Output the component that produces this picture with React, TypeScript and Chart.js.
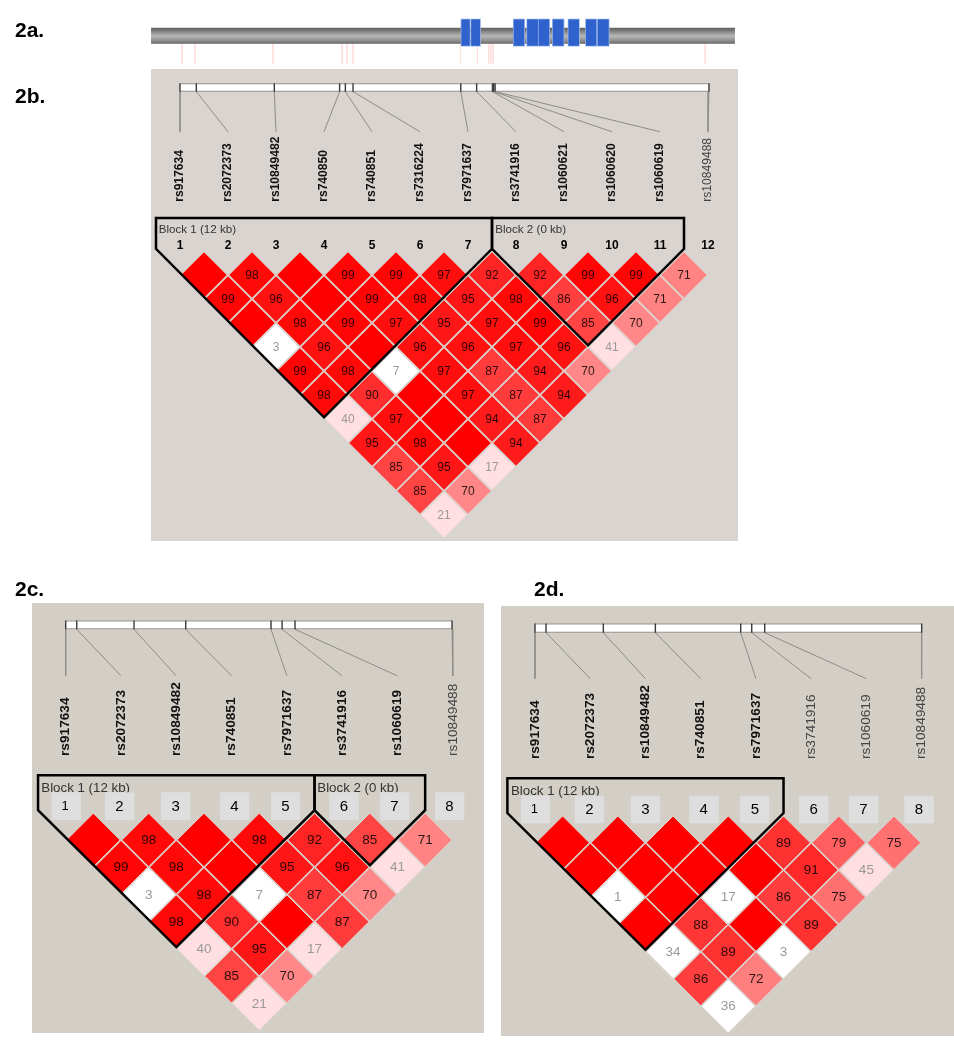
import React, { useEffect, useRef } from "react";
import { Chart, registerables } from "chart.js";

Chart.register(...registerables);

const WIDTH = 954;
const HEIGHT = 1050;

// ---------- Data: gene track (2a), positions in kb ----------
const geneSpanKb = [-1.29, 23.04];
const exonStartsKb = [11.64, 12.05, 13.82, 14.38, 14.86, 15.45, 16.1, 16.83, 17.32];
const exonEndsKb = [11.99, 12.42, 14.26, 14.83, 15.3, 15.9, 16.54, 17.26, 17.78];
const trackSnpKb = [0, 0.54, 3.79, 6.67, 6.88, 7.13, 11.6, 12.31, 12.78, 12.88, 12.97, 21.8];

// ---------- Data: 2b ----------
const snpsB = ["rs917634", "rs2072373", "rs10849482", "rs740850", "rs740851", "rs7316224", "rs7971637", "rs3741916", "rs1060621", "rs1060620", "rs1060619", "rs10849488"];
const stripKbB = [0, 0.68, 3.93, 6.65, 6.89, 7.21, 11.7, 12.36, 13.02, 13.07, 13.13, 22.04];
const ldB = [
  [null, 98, null, 99, 99, 97, 92, 92, 99, 99, 71],
  [99, 96, null, 99, 98, 95, 98, 86, 96, 71],
  [null, 98, 99, 97, 95, 97, 99, 85, 70],
  [3, 96, null, 96, 96, 97, 96, 41],
  [99, 98, 7, 97, 87, 94, 70],
  [98, 90, null, 97, 87, 94],
  [40, 97, null, 94, 87],
  [95, 98, null, 94],
  [85, 95, 17],
  [85, 70],
  [21],
];
const blocksB = [[1, 7], [8, 11]];
const blockNamesB = ["Block 1 (12 kb)", "Block 2 (0 kb)"];

// ---------- Data: 2c ----------
const snpsC = ["rs917634", "rs2072373", "rs10849482", "rs740851", "rs7971637", "rs3741916", "rs1060619", "rs10849488"];
const stripKbC = [0, 0.63, 3.9, 6.85, 11.72, 12.35, 13.09, 22.05];
const ldC = [
  [null, 98, null, 98, 92, 85, 71],
  [99, 98, null, 95, 96, 41],
  [3, 98, 7, 87, 70],
  [98, 90, null, 87],
  [40, 95, 17],
  [85, 70],
  [21],
];
const blocksC = [[1, 5], [6, 7]];
const blockNamesC = ["Block 1 (12 kb)", "Block 2 (0 kb)"];

// ---------- Data: 2d ----------
const snpsD = snpsC;
const stripKbD = [0, 0.63, 3.9, 6.87, 11.74, 12.37, 13.11, 22.07];
const ldD = [
  [null, null, null, null, 89, 79, 75],
  [null, null, null, null, 91, 45],
  [1, null, 17, 86, 75],
  [null, 88, null, 89],
  [34, 89, 3],
  [86, 72],
  [36],
];
const blocksD = [[1, 5]];
const blockNamesD = ["Block 1 (12 kb)"];

// ---------- Layout (pixels), kept apart from the data ----------
const panelLabels = [
  { text: "2a.", x: 15, y: 37 },
  { text: "2b.", x: 15, y: 103 },
  { text: "2c.", x: 15, y: 596 },
  { text: "2d.", x: 534, y: 596 },
];

const PANELS = [
  {
    id: "B", snps: snpsB, strip: stripKbB, ld: ldB, blocks: blocksB, blockNames: blockNamesB,
    boldCount: 11, whiteBelow: 10, bg: "#d9d4cf", rect: [151, 69, 738, 541],
    x0: 180, step: 48, y0: 251, rowStep: 24, pxPerKb: 24, radius: 23.3,
    stripTop: -6.99, stripBottom: -6.64, leaderEnd: -4.97, labelBase: -2.05,
    labelFont: 12.1, cellFont: 12, blockFont: 11.6, blockTextY: 230, blockTextX: [158.7, 495.3],
    numbers: null, numberY: 246, boxes: null,
  },
  {
    id: "C", snps: snpsC, strip: stripKbC, ld: ldC, blocks: blocksC, blockNames: blockNamesC,
    boldCount: 7, whiteBelow: 10, bg: "#d3cfc7", rect: [32, 603, 484, 1033],
    x0: 65.7, step: 55.3, y0: 812.7, rowStep: 27.25, pxPerKb: 17.52, radius: 26.8,
    stripTop: -7.05, stripBottom: -6.73, leaderEnd: -5.02, labelBase: -2.08,
    labelFont: 13.7, cellFont: 13.5, blockFont: 13.3, blockTextY: 788, blockTextX: [41.3, 317.3],
    numbers: [65, 119.3, 175.7, 234.3, 285.3, 344, 394.3, 449.3], numberY: 806.5,
    boxes: [[51.7, 81], [105, 134.3], [161, 190.3], [220, 249.3], [271, 300], [329.3, 358.7], [380, 409.3], [435, 464.3]],
    boxY: [792.3, 820],
  },
  {
    id: "D", snps: snpsD, strip: stripKbD, ld: ldD, blocks: blocksD, blockNames: blockNamesD,
    boldCount: 5, whiteBelow: 40, bg: "#d3cfc7", rect: [501, 606, 954, 1036],
    x0: 535, step: 55.23, y0: 815.5, rowStep: 27.25, pxPerKb: 17.52, radius: 26.8,
    stripTop: -7.05, stripBottom: -6.71, leaderEnd: -5.02, labelBase: -2.07,
    labelFont: 13.7, cellFont: 13.5, blockFont: 13.3, blockTextY: 791, blockTextX: [511],
    numbers: [534.3, 589.3, 645.3, 703.7, 755, 813.7, 863.3, 919], numberY: 809.5,
    boxes: [[521, 550], [574.7, 604], [630.7, 660], [689.3, 718.7], [740, 769.3], [799, 828.3], [849, 878.3], [904.3, 933.7]],
    boxY: [795.7, 823.3],
  },
];

const FONT = '"Liberation Sans", Arial, sans-serif';

function cellColor(v: number | null, whiteBelow: number): string {
  if (v === null) return "#ff0000";
  if (v < whiteBelow) return "#ffffff";
  if (v < 50) return "#ffdfe2";
  const g = Math.round((100 - v) * 4.5);
  return `rgb(255,${g},${g})`;
}

function linearScale(axis: string, origin: number, unit: number, size: number, base: number, reverse: boolean) {
  return {
    type: "linear",
    axis,
    display: false,
    bounds: "data",
    reverse,
    min: base - origin / unit,
    max: base + (size - origin) / unit,
  };
}

function line(points: { x: number; y: number }[], xAxisID: string, yAxisID: string, color: any, width: number, order: number, extra: any = {}) {
  return {
    data: points,
    xAxisID,
    yAxisID,
    showLine: true,
    borderColor: color,
    backgroundColor: "transparent",
    borderWidth: width,
    pointRadius: 0,
    tension: 0,
    clip: false,
    order,
    borderCapStyle: "butt",
    borderJoinStyle: "miter",
    ...extra,
  };
}

function buildDatasets(ctx: CanvasRenderingContext2D) {
  const sets: any[] = [];
  // Gene track
  const grad = ctx.createLinearGradient(0, 28, 0, 44);
  grad.addColorStop(0, "#606060");
  grad.addColorStop(0.18, "#7c7c7c");
  grad.addColorStop(0.5, "#b8b8b8");
  grad.addColorStop(0.82, "#8a8a8a");
  grad.addColorStop(1, "#5f5f5f");
  sets.push(line(geneSpanKb.map((x) => ({ x, y: 0 })), "xT", "yT", grad, 16, 60));
  trackSnpKb.forEach((k) =>
    sets.push(line([{ x: k, y: 7.7 }, { x: k, y: 27.7 }], "xT", "yT", "#fddfda", 1, 60)),
  );
  exonStartsKb.forEach((s, i) => {
    sets.push(line([{ x: s - 0.03, y: -3.2 }, { x: exonEndsKb[i] + 0.03, y: -3.2 }], "xT", "yT", "#9db8ea", 27.8, 51));
    sets.push(line([{ x: s, y: -3.2 }, { x: exonEndsKb[i], y: -3.2 }], "xT", "yT", "#2f62cc", 26.4, 50));
  });

  PANELS.forEach((p) => {
    const xId = "x" + p.id;
    const yId = "y" + p.id;
    const kbToMarker = (k: number) => 1 + (k * p.pxPerKb) / p.step;
    const mid = (p.stripTop + p.stripBottom) / 2;
    const stripEnds = [p.strip[0], p.strip[p.strip.length - 1]].map((k) => ({ x: kbToMarker(k), y: mid }));
    const stripH = (p.stripBottom - p.stripTop) * p.rowStep;
    sets.push(line(stripEnds, xId, yId, "#9a9590", stripH, 49));
    sets.push(line(stripEnds, xId, yId, "#ffffff", stripH - 2, 48));
    p.strip.forEach((k, i) => {
      const x = kbToMarker(k);
      sets.push(line([{ x, y: p.stripTop }, { x, y: p.stripBottom }], xId, yId, "#3a3a3a", 1.4, 47));
      sets.push(line([{ x, y: p.stripBottom }, { x: i + 1, y: p.leaderEnd }], xId, yId, "#8f8c88", 1, 47));
    });
    // LD cells
    const cells: any[] = [];
    const colors: string[] = [];
    p.ld.forEach((row, r) =>
      row.forEach((v, c) => {
        const i = c + 1;
        const d = r + 1;
        cells.push({ x: i + d / 2, y: d, v });
        colors.push(cellColor(v, p.whiteBelow));
      }),
    );
    sets.push({
      data: cells,
      xAxisID: xId,
      yAxisID: yId,
      showLine: false,
      pointStyle: "rectRot",
      pointRadius: p.radius,
      pointBackgroundColor: colors,
      pointBorderColor: "#dcd6d0",
      pointBorderWidth: 1,
      clip: false,
      order: 40,
      panel: p.id,
      isCells: true,
    });
    // Block outlines
    p.blocks.forEach(([a, b]) => {
      const left = a - 0.5;
      const right = b + 0.5;
      const top = -1.37;
      const low = -0.09;
      const pts = [
        { x: left, y: top }, { x: left, y: low },
        { x: (left + right) / 2, y: b - a + 1 - 0.07 },
        { x: right, y: low }, { x: right, y: top }, { x: left, y: top },
      ];
      sets.push(line(pts, xId, yId, "#000000", 2.5, 30, { borderCapStyle: "square" }));
    });
  });
  return sets;
}

const figurePlugin = {
  id: "figure",
  beforeDatasetsDraw(chart: any) {
    const { ctx } = chart;
    ctx.save();
    PANELS.forEach((p) => {
      const [l, t, r, b] = p.rect;
      ctx.fillStyle = p.bg;
      ctx.fillRect(l, t, r - l, b - t);
    });
    ctx.restore();
  },
  afterDatasetsDraw(chart: any) {
    const { ctx } = chart;
    ctx.save();
    ctx.textBaseline = "alphabetic";
    ctx.textAlign = "left";
    ctx.fillStyle = "#000";
    ctx.font = `bold 21px ${FONT}`;
    panelLabels.forEach((l) => ctx.fillText(l.text, l.x, l.y));

    PANELS.forEach((p) => {
      const xs = chart.scales["x" + p.id];
      const ys = chart.scales["y" + p.id];
      // SNP names
      p.snps.forEach((name, i) => {
        const bold = i < p.boldCount;
        ctx.save();
        ctx.translate(xs.getPixelForValue(i + 1), ys.getPixelForValue(p.labelBase));
        ctx.rotate(-Math.PI / 2);
        ctx.textAlign = "left";
        ctx.textBaseline = "middle";
        ctx.font = `${bold ? "bold " : ""}${p.labelFont}px ${FONT}`;
        ctx.fillStyle = bold ? "#111" : "#444";
        ctx.fillText(name, 0, 0);
        ctx.restore();
      });
      // Block names
      ctx.textAlign = "left";
      ctx.textBaseline = "middle";
      ctx.font = `${p.blockFont}px ${FONT}`;
      ctx.fillStyle = "#333";
      p.blockNames.forEach((n, i) => ctx.fillText(n, p.blockTextX[i], p.blockTextY));
      // Number boxes
      if (p.boxes) {
        ctx.fillStyle = "#dedede";
        p.boxes.forEach(([l, r]) => ctx.fillRect(l, p.boxY![0], r - l, p.boxY![1] - p.boxY![0]));
      }
      // Marker numbers
      ctx.textAlign = "center";
      ctx.fillStyle = "#000";
      p.snps.forEach((_, i) => {
        const x = p.numbers ? p.numbers[i] : xs.getPixelForValue(i + 1);
        if (p.numbers) ctx.font = `${i === 0 ? 13 : 15}px ${FONT}`;
        else ctx.font = `bold 12px ${FONT}`;
        ctx.fillText(String(i + 1), x, p.numberY);
      });
    });

    // Cell values
    chart.data.datasets.forEach((ds: any, di: number) => {
      if (!ds.isCells) return;
      const p = PANELS.find((q) => q.id === ds.panel)!;
      const meta = chart.getDatasetMeta(di);
      ctx.font = `${p.cellFont}px ${FONT}`;
      ctx.textAlign = "center";
      ctx.textBaseline = "middle";
      ds.data.forEach((c: any, k: number) => {
        if (c.v === null) return;
        const el = meta.data[k];
        ctx.fillStyle = c.v < 50 ? "#999999" : "rgba(0,0,0,0.82)";
        ctx.fillText(String(c.v), el.x, el.y + 0.5);
      });
    });
    ctx.restore();
  },
};

export default function App() {
  const ref = useRef<HTMLCanvasElement | null>(null);
  useEffect(() => {
    const canvas = ref.current!;
    const ctx = canvas.getContext("2d")!;
    const scales: any = {
      xT: linearScale("x", 182, 24, WIDTH, 0, false),
      yT: linearScale("y", 35.8, 1, HEIGHT, 0, true),
    };
    PANELS.forEach((p) => {
      scales["x" + p.id] = linearScale("x", p.x0, p.step, WIDTH, 1, false);
      scales["y" + p.id] = linearScale("y", p.y0, p.rowStep, HEIGHT, 0, true);
    });
    const chart = new Chart(ctx, {
      type: "scatter",
      data: { datasets: buildDatasets(ctx) },
      options: {
        animation: false,
        responsive: false,
        maintainAspectRatio: false,
        layout: { padding: 0, autoPadding: false },
        events: [],
        scales,
        plugins: { legend: { display: false }, tooltip: { enabled: false }, title: { display: false } },
      },
      plugins: [figurePlugin],
    } as any);
    return () => chart.destroy();
  }, []);
  return (
    <div style={{ position: "fixed", left: 0, top: 0, width: WIDTH, height: HEIGHT, background: "#fff" }}>
      <canvas ref={ref} width={WIDTH} height={HEIGHT} style={{ display: "block", width: WIDTH, height: HEIGHT }} />
    </div>
  );
}
